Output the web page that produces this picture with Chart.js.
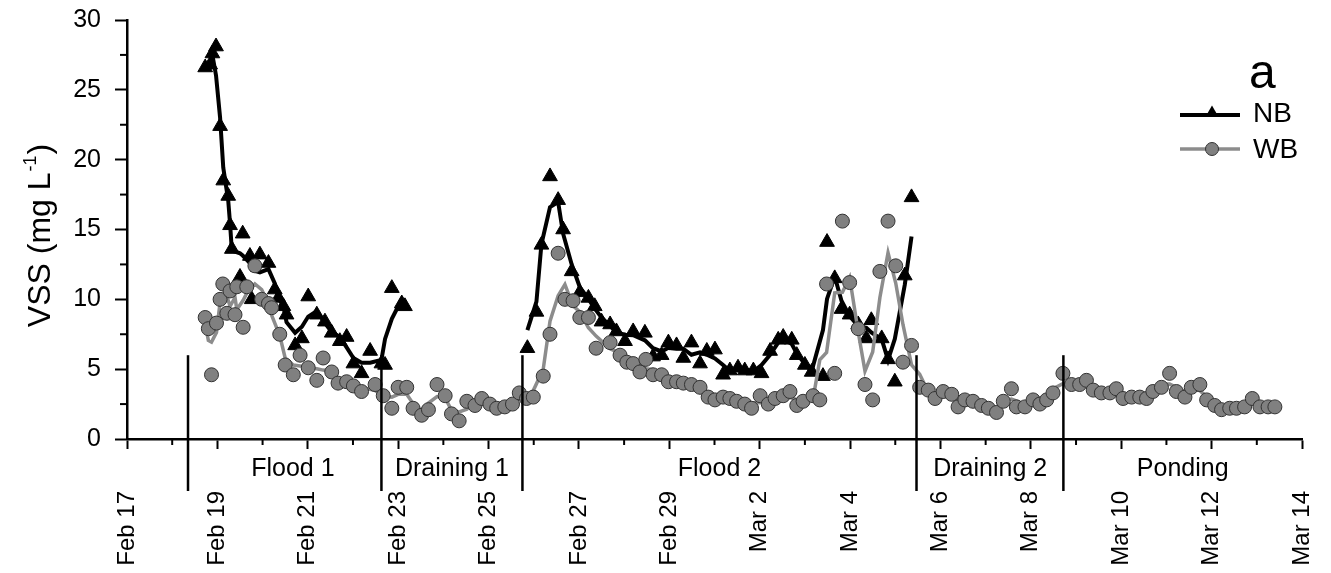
<!DOCTYPE html>
<html>
<head>
<meta charset="utf-8">
<script src="https://cdn.jsdelivr.net/npm/chart.js@4.4.1/dist/chart.umd.min.js"></script>
<style>
  html, body { margin: 0; padding: 0; background: #fff; }
  #wrap { width: 1331px; height: 573px; }
</style>
</head>
<body>
<div id="wrap"><canvas id="chart" width="1331" height="573"></canvas></div>
<script>
// time is in days since Feb 17 00:00
const nbTime1 = [1.73, 1.84, 1.89, 1.97, 2.06, 2.13, 2.24, 2.28, 2.32, 2.50,
  2.56, 2.72, 2.76, 2.94, 3.13, 3.27, 3.35, 3.46, 3.53, 3.72,
  3.87, 4.01, 4.20, 4.38, 4.53, 4.71, 4.86, 5.01, 5.19, 5.38,
  5.63, 5.71, 5.86, 6.08, 6.15];
const nbVss1 = [26.6, 26.8, 27.6, 28.1, 22.4, 18.5, 17.4, 15.3, 13.6, 11.6,
  14.7, 13.1, 10.0, 13.2, 12.6, 10.7, 10.1, 9.5, 8.9, 6.7,
  7.2, 10.2, 8.9, 8.4, 7.6, 7.0, 7.3, 5.4, 4.7, 6.3,
  5.4, 5.3, 10.8, 9.7, 9.5];

const nbTime2 = [8.86, 9.06, 9.17, 9.36, 9.54, 9.65, 9.84, 10.02, 10.21, 10.35,
  10.50, 10.69, 10.83, 11.02, 11.20, 11.46, 11.64, 11.83, 11.98, 12.16,
  12.31, 12.49, 12.68, 12.83, 13.01, 13.19, 13.34, 13.52, 13.67, 13.86,
  14.04, 14.23, 14.41, 14.52, 14.71, 14.82, 15.00, 15.15, 15.40, 15.49,
  15.66, 15.81, 15.99, 16.18, 16.36, 16.47, 16.70, 16.84, 16.99, 17.21, 17.36];
const nbVss2 = [6.5, 9.1, 13.9, 18.8, 17.1, 15.0, 12.0, 10.5, 10.1, 9.5,
  8.4, 8.2, 7.7, 7.0, 7.7, 7.6, 5.9, 6.0, 6.9, 6.7,
  5.8, 6.9, 5.4, 6.3, 6.4, 4.6, 4.9, 5.1, 4.9, 4.9,
  4.7, 6.3, 7.1, 7.3, 7.1, 6.0, 5.3, 4.8, 4.5, 14.1,
  11.5, 9.3, 8.9, 8.2, 7.2, 8.5, 7.2, 5.7, 4.1, 11.7, 17.3];

const wbTime = [1.73, 1.80, 1.87, 1.98, 2.06, 2.12, 2.21, 2.28, 2.39, 2.43,
  2.57, 2.65, 2.83, 2.98, 3.13, 3.20, 3.38, 3.50, 3.68, 3.83,
  4.01, 4.20, 4.34, 4.53, 4.67, 4.86, 5.01, 5.19, 5.49, 5.67,
  5.86, 6.00, 6.19, 6.33, 6.52, 6.67, 6.86, 7.04, 7.18, 7.35,
  7.52, 7.70, 7.85, 8.03, 8.18, 8.36, 8.53, 8.68, 8.84, 8.99,
  9.21, 9.36, 9.54, 9.69, 9.87, 10.02, 10.21, 10.38, 10.69, 10.91,
  11.06, 11.20, 11.35, 11.48, 11.64, 11.83, 11.98, 12.16, 12.31, 12.49,
  12.68, 12.86, 13.01, 13.19, 13.34, 13.49, 13.67, 13.82, 14.01, 14.19,
  14.34, 14.52, 14.67, 14.82, 14.96, 15.18, 15.33, 15.48, 15.66, 15.83,
  15.99, 16.18, 16.33, 16.50, 16.66, 16.84, 17.01, 17.17, 17.36, 17.54,
  17.73, 17.88, 18.06, 18.25, 18.39, 18.54, 18.72, 18.91, 19.06, 19.24,
  19.39, 19.57, 19.68, 19.87, 20.05, 20.20, 20.35, 20.49, 20.71, 20.90,
  21.08, 21.23, 21.38, 21.56, 21.75, 21.89, 22.04, 22.23, 22.41, 22.56,
  22.70, 22.89, 23.07, 23.22, 23.41, 23.55, 23.74, 23.89, 24.07, 24.22,
  24.40, 24.55, 24.73, 24.90, 25.07, 25.25, 25.40];
const wbVss = [8.7, 7.9, 4.6, 8.3, 10.0, 11.1, 9.0, 10.6, 8.9, 10.9,
  8.0, 10.9, 12.4, 10.0, 9.7, 9.4, 7.5, 5.3, 4.6, 6.0,
  5.1, 4.2, 5.8, 4.8, 4.0, 4.1, 3.8, 3.4, 3.9, 3.1,
  2.2, 3.7, 3.7, 2.2, 1.7, 2.1, 3.9, 3.1, 1.8, 1.3,
  2.7, 2.4, 2.9, 2.5, 2.2, 2.3, 2.5, 3.3, 2.9, 3.0,
  4.5, 7.5, 13.3, 10.0, 9.9, 8.7, 8.7, 6.5, 6.9, 6.0,
  5.5, 5.4, 4.8, 5.7, 4.6, 4.6, 4.1, 4.1, 4.0, 3.9,
  3.7, 3.0, 2.8, 3.0, 2.9, 2.7, 2.5, 2.2, 3.1, 2.5,
  2.9, 3.1, 3.4, 2.4, 2.7, 3.1, 2.8, 11.1, 4.7, 15.6,
  11.2, 7.9, 3.9, 2.8, 12.0, 15.6, 12.4, 5.5, 6.7, 3.7,
  3.5, 2.9, 3.4, 3.2, 2.3, 2.8, 2.7, 2.4, 2.2, 1.9,
  2.7, 3.6, 2.3, 2.3, 2.8, 2.5, 2.8, 3.3, 4.7, 3.9,
  3.9, 4.2, 3.5, 3.3, 3.3, 3.6, 2.9, 3.0, 3.0, 2.9,
  3.4, 3.7, 4.7, 3.4, 3.0, 3.7, 3.9, 2.8, 2.4, 2.1,
  2.2, 2.2, 2.3, 2.9, 2.3, 2.3, 2.3];

// one label every 2 days from Feb 17
const dateLabels = ['Feb 17', 'Feb 19', 'Feb 21', 'Feb 23', 'Feb 25', 'Feb 27', 'Feb 29',
  'Mar 2', 'Mar 4', 'Mar 6', 'Mar 8', 'Mar 10', 'Mar 12', 'Mar 14'];

const phaseNames = ['Flood 1', 'Draining 1', 'Flood 2', 'Draining 2', 'Ponding'];
const phaseStart = [1.35, 5.63, 8.75, 17.47, 20.72];
const phaseLabelAt = [3.67, 7.19, 13.11, 19.10, 23.36];
const phaseLineTop = 6;

const FONT = "'Liberation Sans', Arial, sans-serif";

function points(xs, ys) {
  return xs.map((x, i) => ({ x: x, y: ys[i] }));
}

// adjacent averaging (3 points) like the original smoothing curves
function smooth(xs, ys) {
  return ys.map((_, i) => {
    const lo = Math.max(0, i - 1), hi = Math.min(ys.length - 1, i + 1);
    let s = 0;
    for (let k = lo; k <= hi; k++) s += ys[k];
    return { x: xs[i], y: s / (hi - lo + 1) };
  });
}

const nbLine = smooth(nbTime1, nbVss1)
  .concat([{ x: (nbTime1[nbTime1.length - 1] + nbTime2[0]) / 2, y: null }])
  .concat(smooth(nbTime2, nbVss2));

const decor = {
  id: 'decor',
  afterDraw(chart) {
    const ctx = chart.ctx;
    const xs = chart.scales.x, ys = chart.scales.y;
    const area = chart.chartArea;
    ctx.save();
    ctx.strokeStyle = '#000';
    ctx.lineWidth = 2;

    // minor ticks
    for (let d = 1; d < 26; d += 2) {
      const px = xs.getPixelForValue(d);
      ctx.beginPath();
      ctx.moveTo(px, area.bottom);
      ctx.lineTo(px, area.bottom + 6);
      ctx.stroke();
    }
    for (let v = 2.5; v < 30; v += 5) {
      const py = ys.getPixelForValue(v);
      ctx.beginPath();
      ctx.moveTo(area.left - 7, py);
      ctx.lineTo(area.left, py);
      ctx.stroke();
    }

    // phase boundaries
    ctx.lineWidth = 2.5;
    phaseStart.forEach((d) => {
      const px = xs.getPixelForValue(d);
      ctx.beginPath();
      ctx.moveTo(px, ys.getPixelForValue(phaseLineTop));
      ctx.lineTo(px, area.bottom + 52);
      ctx.stroke();
    });

    ctx.fillStyle = '#000';
    ctx.font = '25px ' + FONT;
    ctx.textAlign = 'center';
    ctx.textBaseline = 'middle';
    phaseNames.forEach((name, i) => {
      ctx.fillText(name, xs.getPixelForValue(phaseLabelAt[i]), area.bottom + 30);
    });

    // y axis title with superscript
    ctx.translate(38, (area.top + area.bottom) / 2 + 7);
    ctx.rotate(-Math.PI / 2);
    const main = 'VSS (mg L', sup = '-1', close = ')';
    ctx.font = '32px ' + FONT;
    const w1 = ctx.measureText(main).width, w3 = ctx.measureText(close).width;
    ctx.font = '18px ' + FONT;
    const w2 = ctx.measureText(sup).width;
    const x0 = -(w1 + w2 + w3) / 2;
    ctx.textAlign = 'left';
    ctx.textBaseline = 'alphabetic';
    ctx.font = '32px ' + FONT;
    ctx.fillText(main, x0, 11.5);
    ctx.font = '18px ' + FONT;
    ctx.fillText(sup, x0 + w1 + 1, -2);
    ctx.font = '32px ' + FONT;
    ctx.fillText(close, x0 + w1 + w2 + 2, 11.5);
    ctx.restore();

    // legend
    ctx.save();
    ctx.fillStyle = '#000';
    ctx.font = '48px ' + FONT;
    ctx.textAlign = 'left';
    ctx.textBaseline = 'alphabetic';
    ctx.fillText('a', 1249, 88);

    ctx.lineWidth = 4;
    ctx.strokeStyle = '#000';
    ctx.beginPath();
    ctx.moveTo(1180, 115);
    ctx.lineTo(1240, 115);
    ctx.stroke();
    const r = 7.5;
    ctx.beginPath();
    for (let k = 0; k < 3; k++) {
      const a = k * 2 * Math.PI / 3;
      const px = 1212 + Math.sin(a) * r, py = 113 - Math.cos(a) * r;
      if (k === 0) ctx.moveTo(px, py); else ctx.lineTo(px, py);
    }
    ctx.closePath();
    ctx.fill();

    ctx.strokeStyle = '#8c8c8c';
    ctx.lineWidth = 3.5;
    ctx.beginPath();
    ctx.moveTo(1180, 149);
    ctx.lineTo(1240, 149);
    ctx.stroke();
    ctx.beginPath();
    ctx.arc(1212, 149, 6.5, 0, Math.PI * 2);
    ctx.fillStyle = '#808080';
    ctx.fill();
    ctx.strokeStyle = '#333';
    ctx.lineWidth = 1;
    ctx.stroke();

    ctx.fillStyle = '#000';
    ctx.font = '28px ' + FONT;
    ctx.textBaseline = 'middle';
    ctx.fillText('NB', 1253, 114);
    ctx.fillText('WB', 1253, 150);
    ctx.restore();
  }
};

new Chart(document.getElementById('chart').getContext('2d'), {
  type: 'scatter',
  data: {
    datasets: [
      {
        label: 'WB',
        data: points(wbTime, wbVss),
        pointStyle: 'circle',
        pointRadius: 7,
        pointHoverRadius: 7,
        backgroundColor: '#808080',
        borderColor: '#333',
        borderWidth: 1
      },
      {
        label: 'WB smooth',
        data: smooth(wbTime, wbVss),
        showLine: true,
        borderColor: '#8c8c8c',
        borderWidth: 3.5,
        pointRadius: 0,
        pointHoverRadius: 0
      },
      {
        label: 'NB',
        data: points(nbTime1.concat(nbTime2), nbVss1.concat(nbVss2)),
        pointStyle: 'triangle',
        pointRadius: 8.5,
        pointHoverRadius: 8.5,
        backgroundColor: '#000',
        borderColor: '#000',
        borderWidth: 1
      },
      {
        label: 'NB smooth',
        data: nbLine,
        showLine: true,
        spanGaps: false,
        borderColor: '#000',
        borderWidth: 4,
        pointRadius: 0,
        pointHoverRadius: 0
      }
    ]
  },
  options: {
    responsive: false,
    animation: false,
    devicePixelRatio: 1,
    layout: { padding: { top: 20, right: 29, left: 0, bottom: 0 } },
    plugins: { legend: { display: false }, tooltip: { enabled: false } },
    scales: {
      x: {
        type: 'linear',
        min: 0,
        max: 26,
        afterFit: (s) => { s.height = 134; s.paddingLeft = 0; s.paddingRight = 0; },
        border: { color: '#000', width: 2.5 },
        grid: { drawOnChartArea: false, tickLength: 10, tickWidth: 2, tickColor: '#000' },
        ticks: {
          stepSize: 2,
          autoSkip: false,
          minRotation: 90,
          maxRotation: 90,
          padding: 42,
          color: '#000',
          font: { family: FONT, size: 24 },
          callback: (v) => dateLabels[v / 2] || ''
        }
      },
      y: {
        min: 0,
        max: 30,
        afterFit: (s) => { s.width = 127; s.paddingTop = 0; s.paddingBottom = 0; },
        border: { color: '#000', width: 2.5 },
        grid: { drawOnChartArea: false, tickLength: 12, tickWidth: 2, tickColor: '#000' },
        ticks: {
          stepSize: 5,
          padding: 14,
          color: '#000',
          font: { family: FONT, size: 25 }
        }
      }
    }
  },
  plugins: [decor]
});
</script>
</body>
</html>
